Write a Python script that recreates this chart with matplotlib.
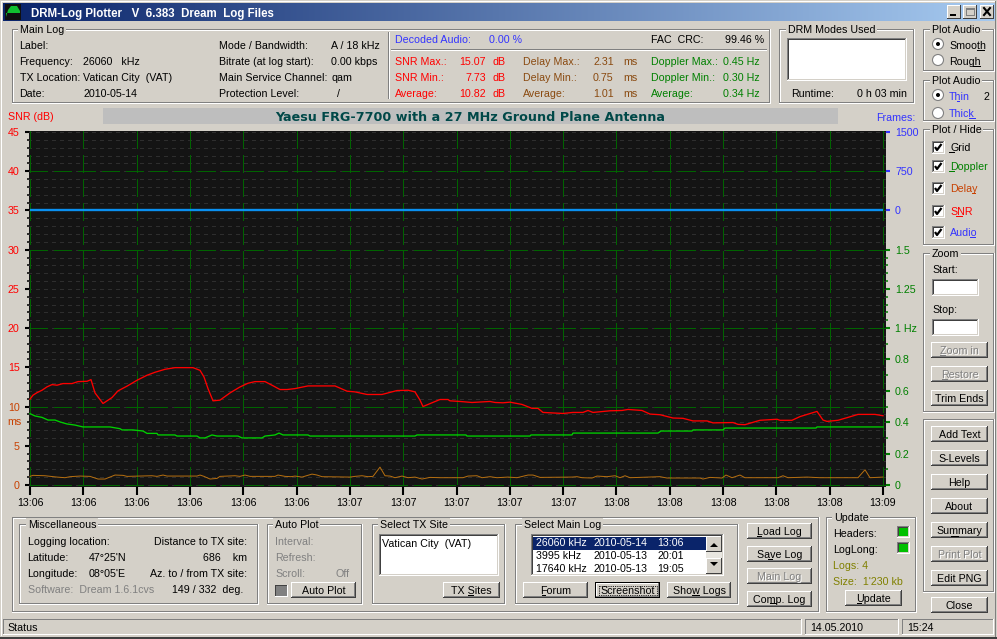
import numpy as np
import matplotlib
matplotlib.use("Agg")
import matplotlib.pyplot as plt
from matplotlib.patches import Rectangle, Circle

# ---------- data ----------
snr_x = [30,33,37,42,47,52,57,63,72,78,87,91,95,100,103,112,118,127,137,147,155,165,175,193,200,204,208,213,220,230,240,248,255,265,272,280,287,295,308,335,347,355,367,382,397,408,415,420,423,432,440,448,450,460,472,490,495,503,510,522,532,538,543,563,573,583,588,593,610,622,628,642,650,660,673,683,693,707,713,733,738,745,760,777,780,792,800,817,823,827,838,848,858,875,883]
snr_db = [10.94,11.45,11.77,12.08,12.51,12.8,12.72,12.93,12.93,13.18,13.22,13.43,11.74,10.9,10.39,11.15,12.0,12.6,13.35,13.99,14.37,14.75,14.96,14.96,14.62,13.77,12.29,10.73,10.82,11.74,12.5,12.97,13.18,13.18,12.72,12.17,12.17,12.29,12.63,12.63,11.96,11.87,11.54,11.54,12.04,12.08,11.87,10.82,10.0,10.48,10.9,10.9,10.73,10.65,10.52,10.65,10.52,10.48,10.56,10.27,9.77,9.77,9.25,9.12,9.25,9.25,9.5,9.25,9.46,9.5,9.63,9.5,9.04,8.96,8.54,8.5,8.17,8.17,7.92,7.96,7.73,7.69,8.25,8.38,8.25,8.25,8.72,9.38,8.28,8.11,8.25,8.62,9.0,9.0,8.83]

doppler_x = [30,35,42,48,55,60,67,75,83,110,120,122,133,143,147,157,158,175,177,197,200,205,212,217,238,242,262,265,275,279,283,308,310,415,417,466,467,530,531,572,573,658,661,692,693,723,725,816,817,883]
doppler_hz = [.455,.44,.431,.414,.414,.402,.389,.382,.37,.37,.359,.351,.351,.344,.329,.329,.319,.319,.312,.312,.30,.30,.319,.312,.312,.30,.30,.312,.319,.331,.319,.319,.312,.312,.319,.319,.312,.312,.319,.319,.331,.331,.344,.344,.351,.351,.363,.363,.37,.37]

delay_x = [30,33,45,57,65,70,80,90,98,105,115,123,127,152,157,163,167,197,200,204,210,217,220,235,240,245,250,275,278,285,291,295,302,312,317,322,350,355,362,368,373,380,385,390,395,402,408,415,422,430,440,463,468,477,482,490,497,508,517,528,533,540,572,577,582,592,597,607,615,620,625,630,660,667,700,703,710,722,726,732,740,745,778,783,788,807,820,858,865,870,883]
delay_ms = [1.1,1.23,1.18,1.01,.93,1.06,1.14,1.1,.76,.76,1.27,1.23,1.1,1.18,1.1,1.27,1.14,1.14,1.27,1.1,.76,.84,1.1,1.18,1.1,1.27,1.1,1.1,1.27,1.1,1.06,1.14,1.01,1.39,1.27,1.06,1.01,1.1,1.18,1.06,1.1,2.28,1.18,1.14,.93,1.14,.93,1.01,.76,.97,.93,.93,1.14,1.18,.93,1.06,.93,1.01,.93,1.27,1.27,.97,1.01,1.06,.93,.89,1.14,1.06,1.18,.93,1.18,.93,1.06,.89,.89,.76,.97,.89,1.27,.93,1.27,.93,.93,1.18,.93,1.01,.93,.93,1.94,.93,1.01]

frames_x = [30, 883]
frames_n = [0, 0]

time_labels = ["13:06","13:06","13:06","13:06","13:06","13:06","13:07","13:07","13:07","13:07","13:07","13:08","13:08","13:08","13:08","13:08","13:09"]
snr_ticks = [0,5,10,15,20,25,30,35,40,45]
snr_labels = ["0","5","10","15","20","25","30","35","40","45"]
doppler_ticks = [0,.2,.4,.6,.8,1,1.25,1.5]
doppler_labels = ["0","0.2","0.4","0.6","0.8","1 Hz","1.25","1.5"]
doppler_minor = [.1,.3,.5,.7,.9,1.05,1.1,1.15,1.2,1.3,1.35,1.4,1.45]
frames_ticks = [0,750,1500]
frames_labels = ["0","750","1500"]

# ---------- style ----------
plt.rcParams['font.family'] = ['Liberation Sans', 'DejaVu Sans']
plt.rcParams['lines.scale_dashes'] = False
W, H = 997, 639
FACE = '#d4d0c8'
DARK = '#808080'
BLUE = '#3333ff'
RED = '#ff0000'
BROWN = '#8a4a10'
GREEN = '#008000'
ORANGE = '#c84000'
FS = 7.65

fig = plt.figure(figsize=(W/100, H/100), dpi=100, facecolor=FACE)
ui = fig.add_axes([0, 0, 1, 1])
ui.set_xlim(0, W); ui.set_ylim(H, 0); ui.axis('off')

def rect(x0, y0, x1, y1, color, z=1):
    ui.add_patch(Rectangle((x0, y0), x1-x0, y1-y0, fc=color, ec='none', lw=0, zorder=z, antialiased=False))

def txt(x, y, s, color='black', ha='left', size=FS, weight='normal', z=6, **kw):
    return ui.text(x, y, s, color=color, ha=ha, va='center_baseline', fontsize=size, fontweight=weight, zorder=z, **kw)

def under(x0, x1, y, color='black'):
    rect(x0, y, x1, y+1, color, z=7)

def frame(x0, y0, x1, y1, a, b, z=2):
    rect(x0, y0, x1, y0+1, a, z); rect(x0, y0, x0+1, y1, a, z)
    rect(x0, y1-1, x1, y1, b, z); rect(x1-1, y0, x1, y1, b, z)

def group(x0, y0, x1, y1, label=None, lx=None):
    frame(x0, y0, x1, y1, DARK, 'white')
    frame(x0+1, y0+1, x1-1, y1-1, 'white', DARK)
    if label:
        lx = x0+8 if lx is None else lx
        t = txt(lx, y0, label, z=6)
        t.set_bbox(dict(fc=FACE, ec='none', pad=1.2))

def button(x0, y0, x1, y1, label, disabled=False, focus=False):
    rect(x0, y0, x1, y1, FACE, 3)
    if focus:
        frame(x0, y0, x1, y1, 'black', 'black', 4)
        frame(x0+1, y0+1, x1-1, y1-1, 'white', DARK, 4)
    else:
        frame(x0, y0, x1, y1, 'white', '#404040', 4)
        frame(x0+1, y0+1, x1-1, y1-1, FACE, DARK, 4)
    cx, cy = (x0+x1)/2, (y0+y1)/2
    if disabled:
        txt(cx+1, cy+1, label, color='white', ha='center', z=5)
        txt(cx, cy, label, color=DARK, ha='center')
    else:
        txt(cx, cy, label, ha='center')
    if focus:
        ui.add_patch(Rectangle((x0+3.5, y0+3.5), x1-x0-7, y1-y0-7, fc='none', ec='black', lw=0.6, ls=(0, (0.8, 0.8)), zorder=5))

def sunken(x0, y0, x1, y1, face='white'):
    rect(x0, y0, x1, y1, face, 3)
    frame(x0, y0, x1, y1, DARK, 'white', 4)
    frame(x0+1, y0+1, x1-1, y1-1, '#404040', FACE, 4)

def radio(x, y, on):
    ui.add_patch(Circle((x, y), 5.5, fc='white', ec=DARK, lw=0.8, zorder=4))
    if on:
        ui.add_patch(Circle((x, y), 2, fc='black', ec='none', zorder=5))

def check(x, y):
    sunken(x-6, y-6, x+7, y+7)
    ui.plot([x-3, x-1, x+3.5], [y, y+3, y-3], color='black', lw=1.6, zorder=6, solid_capstyle='butt')

# ---------- window chrome ----------
rect(1, 1, 996, 2, 'white'); rect(1, 1, 2, 636, 'white')
rect(0, 637, W, 639, '#404040'); rect(995, 1, 996, 637, DARK)
ui.imshow(np.linspace(0, 1, 256).reshape(1, -1, 1) * (np.array([166, 202, 240]) - np.array([10, 36, 106])) / 255 + np.array([10, 36, 106]) / 255,
          extent=(3, 994, 21, 3), aspect='auto', zorder=1, interpolation='bilinear')
ui.set_xlim(0, W); ui.set_ylim(H, 0)
rect(5, 4, 21, 20, '#101010', 2)
ui.fill([6, 8, 11, 17, 20, 20, 6], [17, 10, 6, 6, 11, 13, 13], color='#10c030', zorder=3, lw=0)
txt(31, 12, "DRM-Log Plotter   V  6.383  Dream  Log Files", color='white', size=8.3, weight='bold')
for x0, x1, sym in [(947, 961, '_'), (963, 977, 'm'), (980, 994, 'x')]:
    rect(x0, 5, x1, 19, FACE, 3)
    frame(x0, 5, x1, 19, 'white', '#404040', 4)
rect(950, 14, 956, 16, 'black', 5)
frame(966, 8, 975, 16, DARK, DARK, 5); rect(966, 8, 975, 10, DARK, 5)
ui.plot([984, 990], [8, 15], color='black', lw=1.5, zorder=5)
ui.plot([990, 984], [8, 15], color='black', lw=1.5, zorder=5)

# ---------- Main Log ----------
group(12, 29, 771, 104, "Main Log", 20)
for y, a, b in [(45, "Label:", ""), (61, "Frequency:", "26060   kHz"), (77, "TX Location:", "Vatican City  (VAT)"), (93, "Date:", "2010-05-14")]:
    txt(19.5, y, a); txt(83, y, b)
for y, a, b in [(45, "Mode / Bandwidth:", "A / 18 kHz"), (61, "Bitrate (at log start):", "0.00 kbps"), (77, "Main Service Channel:", "qam"), (93, "Protection Level:", "  /")]:
    txt(219, y, a); txt(331, y, b)
rect(388, 32, 389, 99, DARK); rect(389, 32, 390, 99, 'white')
rect(391, 49, 767, 50, DARK); rect(391, 50, 767, 51, 'white')
txt(395, 39, "Decoded Audio:", color=BLUE); txt(489, 39, "0.00 %", color=BLUE)
txt(651, 39, "FAC  CRC:"); txt(764, 39, "99.46 %", ha='right')
for y, a, b in [(61, "SNR Max.:", "15.07"), (77, "SNR Min.:", "7.73"), (93, "Average:", "10.82")]:
    txt(395, y, a, color=RED); txt(486, y, b, color=RED, ha='right'); txt(492, y, "dB", color=RED)
for y, a, b in [(61, "Delay Max.:", "2.31"), (77, "Delay Min.:", "0.75"), (93, "Average:", "1.01")]:
    txt(523, y, a, color=BROWN); txt(593, y, b, color=BROWN); txt(623, y, "ms", color=BROWN)
for y, a, b in [(61, "Doppler Max.:", "0.45 Hz"), (77, "Doppler Min.:", "0.30 Hz"), (93, "Average:", "0.34 Hz")]:
    txt(651, y, a, color=GREEN); txt(723, y, b, color=GREEN)

group(779, 29, 915, 104, "DRM Modes Used", 788)
sunken(787, 38, 907, 81)
txt(791, 93, "Runtime:"); txt(857, 93, "0 h 03 min")

# ---------- right column ----------
group(923, 29, 995, 72, "Plot Audio", 932)
radio(938, 44, True); txt(949, 45, "Smooth"); under(977, 985, 50)
radio(938, 60, False); txt(949, 61, "Rough"); under(973, 981, 66)
group(923, 80, 995, 122, "Plot Audio", 932)
radio(938, 95, True); txt(949, 96, "Thin", color=BLUE); under(957, 960, 101, BLUE); txt(983, 96, "2")
radio(938, 113, False); txt(949, 113, "Thick", color=BLUE); under(969, 976, 118, BLUE)
group(923, 129, 995, 246, "Plot / Hide", 932)
for y, s, c, ua, ub in [(147, "Grid", 'black', 949, 955), (166, "Doppler", GREEN, 949, 955), (188, "Delay", ORANGE, 972, 976), (211, "SNR", RED, 956, 963), (232, "Audio", BLUE, 970, 976)]:
    check(938, y); txt(950, y, s, color=c); under(ua, ub, y+5, c)
group(923, 253, 995, 413, "Zoom", 932)
txt(932, 269, "Start:"); sunken(932, 279, 979, 296)
txt(932, 309, "Stop:"); sunken(932, 319, 979, 336)
button(931, 342, 988, 358, "Zoom in", disabled=True); under(940, 946, 355, DARK)
button(931, 366, 988, 382, "Restore", disabled=True); under(942, 948, 379, DARK)
button(931, 390, 988, 406, "Trim Ends")
group(923, 419, 995, 593)
for i, (s, d) in enumerate([("Add Text", 0), ("S-Levels", 0), ("Help", 0), ("About", 0), ("Summary", 0), ("Print Plot", 1), ("Edit PNG", 0)]):
    button(931, 426+24*i, 988, 442+24*i, s, disabled=bool(d))
under(951, 959, 536)
button(931, 597, 988, 613, "Close")

# ---------- bottom ----------
group(12, 517, 820, 613)
group(19, 524, 259, 605, "Miscellaneous", 28)
txt(27.5, 541, "Logging location:"); txt(247, 541, "Distance to TX site:", ha='right')
txt(27.5, 557, "Latitude:"); txt(89, 557, "47°25'N"); txt(247, 557, "686    km", ha='right')
txt(27.5, 573, "Longitude:"); txt(89, 573, "08°05'E"); txt(247, 573, "Az. to / from TX site:", ha='right')
txt(27.5, 589, "Software:  Dream 1.6.1cvs", color=DARK); txt(172, 589, "149 / 332  deg.")
group(267, 524, 363, 605, "Auto Plot", 275)
txt(275, 541, "Interval:", color=DARK); txt(275, 557, "Refresh:", color=DARK); txt(275, 573, "Scroll:", color=DARK); txt(335, 573, "Off", color=DARK)
rect(275, 585, 288, 597, DARK, 3); frame(275, 585, 288, 597, '#404040', 'white', 4)
button(291, 582, 356, 598, "Auto Plot")
group(372, 524, 506, 605, "Select TX Site", 380)
sunken(379, 534, 499, 576); txt(382, 543, "Vatican City  (VAT)")
button(443, 582, 500, 598, "TX Sites"); under(468, 474, 595)
group(515, 524, 739, 605, "Select Main Log", 524)
sunken(531, 534, 724, 576)
rect(533, 537, 706, 550, '#0a246a', 5)
for y, a, b, c, col in [(542, "26060 kHz", "2010-05-14", "13:06", 'white'), (555, "3995 kHz", "2010-05-13", "20:01", 'black'), (568, "17640 kHz", "2010-05-13", "19:05", 'black')]:
    txt(535.5, y, a, color=col); txt(593, y, b, color=col); txt(657, y, c, color=col)
rect(706, 536, 722, 574, '#e8e6e0', 5)
for y0, y1, pts in [(536, 552, [(710, 547), (718, 547), (714, 543)]), (558, 574, [(710, 562), (718, 562), (714, 566)])]:
    rect(706, y0, 722, y1, FACE, 6); frame(706, y0, 722, y1, 'white', '#404040', 7)
    ui.fill(*zip(*pts), color='black', zorder=8, lw=0)
button(523, 582, 588, 598, "Forum"); under(542, 546, 595)
button(595, 582, 660, 598, "Screenshot", focus=True)
button(667, 582, 731, 598, "Show Logs"); under(692, 700, 595)
button(747, 523, 812, 539, "Load Log"); under(757, 762, 536)
button(747, 546, 812, 562, "Save Log"); under(768, 773, 559)
button(747, 568, 812, 584, "Main Log", disabled=True)
button(747, 591, 812, 607, "Comp. Log"); under(770, 777, 603)
group(826, 517, 917, 613, "Update", 834)
txt(833, 533, "Headers:"); sunken(897, 526, 910, 538, '#00c000')
txt(833, 549, "LogLong:"); sunken(897, 542, 910, 554, '#00c000')
txt(833, 565, "Logs: 4", color='#808000'); txt(833, 581, "Size:  1'230 kb", color='#808000')
button(845, 590, 902, 606, "Update"); under(857, 862, 603)
for x0, x1 in [(3, 802), (805, 899), (902, 994)]:
    frame(x0, 619, x1, 635, DARK, 'white')
txt(7.5, 627, "Status"); txt(810, 627, "14.05.2010"); txt(907, 627, "15:24")

# ---------- plot header ----------
rect(103, 108, 838, 124, '#bebebe')
txt(470.5, 116, "Yaesu FRG-7700 with a 27 MHz Ground Plane Antenna", color='#004848', ha='center', size=9.15, weight='bold', family='DejaVu Sans')
txt(7.5, 116, "SNR (dB)", color=RED)
txt(915, 117, "Frames:", color=BLUE, ha='right')
txt(7, 421, "ms", color=ORANGE)

# ---------- plot ----------
L, R, T, B = 29.0, 885.7, 131.0, 487.0
ax = fig.add_axes([L/W, 1-B/H, (R-L)/W, (B-T)/H], facecolor='#141414')
PX_PER_DB = 353/45
ylo, yhi = -(B-485)/PX_PER_DB, 45+(132-T)/PX_PER_DB
ax.set_xlim(L, R); ax.set_ylim(ylo, yhi)
for s in ax.spines.values():
    s.set_visible(False)
px = 0.72
for v in range(0, 46):
    ax.plot([L, R], [v, v], color='#2e2e2e', lw=0.6, ls=(1, (3.5*px, 4.5*px)), zorder=1, antialiased=False)
for v in range(0, 46, 10):
    ax.plot([L+1, R], [v, v], color='#006400', lw=0.72, ls=(0, (18*px, 6*px)), zorder=2, antialiased=False)
time_ticks = np.linspace(30, 883, 17)
for t in time_ticks:
    ax.plot([t, t], [yhi, ylo], color='#006400', lw=0.95, ls=(0, (18*px, 6.3*px)), zorder=2, antialiased=False)

ax.plot(delay_x, delay_ms, color='#b87010', lw=0.7, zorder=5)
ax.plot(snr_x, snr_db, color='#ff0000', lw=0.95, zorder=6, solid_joinstyle='round')

ax.set_xticks(time_ticks); ax.set_xticklabels(time_labels, fontsize=FS)
ax.tick_params(axis='x', length=5.4, width=1.5, color='black', pad=2.5)
ax.set_yticks(snr_ticks); ax.set_yticklabels(snr_labels, fontsize=FS)
ax.set_yticks([v for v in range(46) if v % 5], minor=True)
ax.tick_params(axis='y', which='major', length=3.1, width=1.5, pad=3.6)
ax.tick_params(axis='y', which='minor', length=1.5, width=1.1)
for tick, v in zip(ax.yaxis.get_major_ticks(), snr_ticks):
    c = ORANGE if v <= 10 else RED
    tick.tick1line.set_color(c); tick.label1.set_color(c)
for tick, v in zip(ax.yaxis.get_minor_ticks(), [v for v in range(46) if v % 5]):
    tick.tick1line.set_color(ORANGE if v <= 10 else RED)

ax_d = ax.twinx()
ax_d.set_ylim(ylo*0.05, yhi*0.05)
ax_d.plot(doppler_x, doppler_hz, color='#00d000', lw=0.95, zorder=6)
ax_d.set_yticks(doppler_ticks); ax_d.set_yticklabels(doppler_labels, fontsize=FS, color=GREEN)
ax_d.set_yticks(doppler_minor, minor=True)
ax_d.tick_params(axis='y', which='major', length=3.1, width=1.5, color=GREEN, pad=3.6)
ax_d.tick_params(axis='y', which='minor', length=1.6, width=1.1, color=GREEN)

ax_f = ax.twinx()
ax_f.set_ylim((ylo-35)*150, (yhi-35)*150)
ax_f.plot(frames_x, frames_n, color='#0a90f0', lw=1.7, zorder=7, solid_capstyle='butt')
ax_f.set_yticks(frames_ticks); ax_f.set_yticklabels(frames_labels, fontsize=FS, color=BLUE)
ax_f.tick_params(axis='y', which='major', length=3.1, width=1.5, color=BLUE, pad=3.6)
for a in (ax_d, ax_f):
    a.set_xlim(L, R)
    a.patch.set_visible(False)
    for s in a.spines.values():
        s.set_visible(False)

fig.savefig("out.png", dpi=100, facecolor=FACE)
